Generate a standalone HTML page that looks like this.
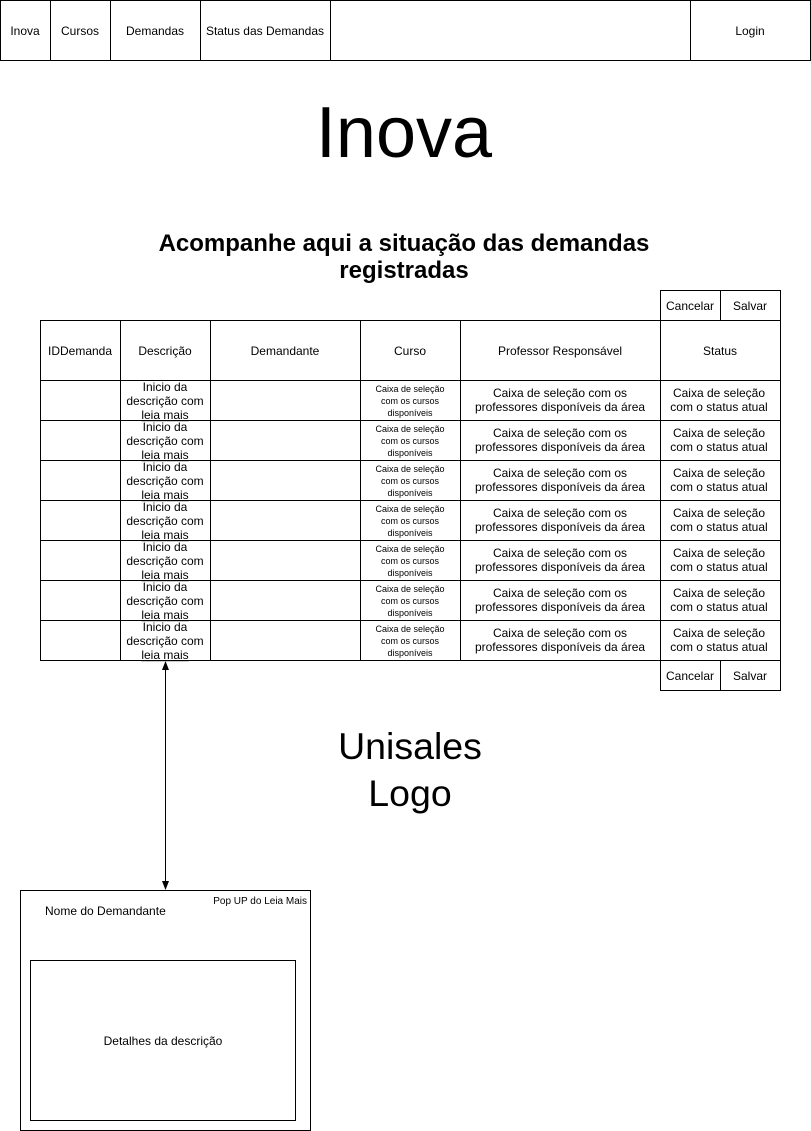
<!DOCTYPE html>
<html><head><meta charset="utf-8"><style>
html,body{margin:0;padding:0;background:#fff}
svg{display:block}
text{font-family:"Liberation Sans",Arial,sans-serif;fill:#000}
</style></head><body>
<svg width="811" height="1131" viewBox="0 0 811 1131" xmlns="http://www.w3.org/2000/svg">
<g fill="none" stroke="#000" stroke-width="1">
<rect x="0.5" y="0.5" width="810" height="60"/>
<line x1="50.5" y1="0" x2="50.5" y2="60"/>
<line x1="110.5" y1="0" x2="110.5" y2="60"/>
<line x1="200.5" y1="0" x2="200.5" y2="60"/>
<line x1="330.5" y1="0" x2="330.5" y2="60"/>
<line x1="690.5" y1="0" x2="690.5" y2="60"/>
<rect x="660.5" y="290.5" width="120" height="30"/>
<line x1="720.5" y1="290" x2="720.5" y2="320"/>
<rect x="660.5" y="660.5" width="120" height="30"/>
<line x1="720.5" y1="660" x2="720.5" y2="690"/>
<rect x="40.5" y="320.5" width="740" height="340"/>
<line x1="120.5" y1="320" x2="120.5" y2="660"/>
<line x1="210.5" y1="320" x2="210.5" y2="660"/>
<line x1="360.5" y1="320" x2="360.5" y2="660"/>
<line x1="460.5" y1="320" x2="460.5" y2="660"/>
<line x1="660.5" y1="320" x2="660.5" y2="660"/>
<line x1="40" y1="380.5" x2="780" y2="380.5"/>
<line x1="40" y1="420.5" x2="780" y2="420.5"/>
<line x1="40" y1="460.5" x2="780" y2="460.5"/>
<line x1="40" y1="500.5" x2="780" y2="500.5"/>
<line x1="40" y1="540.5" x2="780" y2="540.5"/>
<line x1="40" y1="580.5" x2="780" y2="580.5"/>
<line x1="40" y1="620.5" x2="780" y2="620.5"/>
<line x1="165.5" y1="668" x2="165.5" y2="882"/>
<rect x="20.5" y="890.5" width="290" height="240"/>
<rect x="30.5" y="960.5" width="265" height="160"/>
</g>
<polygon points="165.5,661 162,670 169,670" fill="#000"/>
<polygon points="165.5,890 162,881 169,881" fill="#000"/>
<g font-size="12" text-anchor="middle">
<text x="25" y="35">Inova</text>
<text x="80" y="35">Cursos</text>
<text x="155" y="35">Demandas</text>
<text x="265" y="35">Status das Demandas</text>
<text x="750" y="35">Login</text>
<text x="690" y="310">Cancelar</text>
<text x="750" y="310">Salvar</text>
<text x="690" y="680">Cancelar</text>
<text x="750" y="680">Salvar</text>
<text x="80" y="355">IDDemanda</text>
<text x="165" y="355">Descrição</text>
<text x="285" y="355">Demandante</text>
<text x="410" y="355">Curso</text>
<text x="560" y="355">Professor Responsável</text>
<text x="720" y="355">Status</text>
</g>
<text x="404" y="157" font-size="72" text-anchor="middle">Inova</text>
<text x="404" y="251" font-size="24" font-weight="bold" text-anchor="middle">Acompanhe aqui a situação das demandas</text>
<text x="404" y="278" font-size="24" font-weight="bold" text-anchor="middle">registradas</text>
<text x="410" y="759" font-size="37.5" text-anchor="middle">Unisales</text>
<text x="410" y="806" font-size="37.5" text-anchor="middle">Logo</text>
<text x="45" y="915" font-size="12">Nome do Demandante</text>
<text x="307" y="904" font-size="10" text-anchor="end">Pop UP do Leia Mais</text>
<text x="163" y="1045" font-size="12" text-anchor="middle">Detalhes da descrição</text>

<g text-anchor="middle">
<g transform="translate(0,0)">
<text x="165" y="391" font-size="12">Inicio da</text><text x="165" y="405" font-size="12">descrição com</text><text x="165" y="419" font-size="12" text-decoration="underline">leia mais</text>
<text x="410" y="392" font-size="9">Caixa de seleção</text><text x="410" y="404" font-size="9">com os cursos</text><text x="410" y="416" font-size="9">disponíveis</text>
<text x="560" y="397" font-size="12">Caixa de seleção com os</text><text x="560" y="411" font-size="12">professores disponíveis da área</text>
<text x="719" y="397" font-size="12">Caixa de seleção</text><text x="719" y="411" font-size="12">com o status atual</text>
</g>
<g transform="translate(0,40)">
<text x="165" y="391" font-size="12">Inicio da</text><text x="165" y="405" font-size="12">descrição com</text><text x="165" y="419" font-size="12" text-decoration="underline">leia mais</text>
<text x="410" y="392" font-size="9">Caixa de seleção</text><text x="410" y="404" font-size="9">com os cursos</text><text x="410" y="416" font-size="9">disponíveis</text>
<text x="560" y="397" font-size="12">Caixa de seleção com os</text><text x="560" y="411" font-size="12">professores disponíveis da área</text>
<text x="719" y="397" font-size="12">Caixa de seleção</text><text x="719" y="411" font-size="12">com o status atual</text>
</g>
<g transform="translate(0,80)">
<text x="165" y="391" font-size="12">Inicio da</text><text x="165" y="405" font-size="12">descrição com</text><text x="165" y="419" font-size="12" text-decoration="underline">leia mais</text>
<text x="410" y="392" font-size="9">Caixa de seleção</text><text x="410" y="404" font-size="9">com os cursos</text><text x="410" y="416" font-size="9">disponíveis</text>
<text x="560" y="397" font-size="12">Caixa de seleção com os</text><text x="560" y="411" font-size="12">professores disponíveis da área</text>
<text x="719" y="397" font-size="12">Caixa de seleção</text><text x="719" y="411" font-size="12">com o status atual</text>
</g>
<g transform="translate(0,120)">
<text x="165" y="391" font-size="12">Inicio da</text><text x="165" y="405" font-size="12">descrição com</text><text x="165" y="419" font-size="12" text-decoration="underline">leia mais</text>
<text x="410" y="392" font-size="9">Caixa de seleção</text><text x="410" y="404" font-size="9">com os cursos</text><text x="410" y="416" font-size="9">disponíveis</text>
<text x="560" y="397" font-size="12">Caixa de seleção com os</text><text x="560" y="411" font-size="12">professores disponíveis da área</text>
<text x="719" y="397" font-size="12">Caixa de seleção</text><text x="719" y="411" font-size="12">com o status atual</text>
</g>
<g transform="translate(0,160)">
<text x="165" y="391" font-size="12">Inicio da</text><text x="165" y="405" font-size="12">descrição com</text><text x="165" y="419" font-size="12" text-decoration="underline">leia mais</text>
<text x="410" y="392" font-size="9">Caixa de seleção</text><text x="410" y="404" font-size="9">com os cursos</text><text x="410" y="416" font-size="9">disponíveis</text>
<text x="560" y="397" font-size="12">Caixa de seleção com os</text><text x="560" y="411" font-size="12">professores disponíveis da área</text>
<text x="719" y="397" font-size="12">Caixa de seleção</text><text x="719" y="411" font-size="12">com o status atual</text>
</g>
<g transform="translate(0,200)">
<text x="165" y="391" font-size="12">Inicio da</text><text x="165" y="405" font-size="12">descrição com</text><text x="165" y="419" font-size="12" text-decoration="underline">leia mais</text>
<text x="410" y="392" font-size="9">Caixa de seleção</text><text x="410" y="404" font-size="9">com os cursos</text><text x="410" y="416" font-size="9">disponíveis</text>
<text x="560" y="397" font-size="12">Caixa de seleção com os</text><text x="560" y="411" font-size="12">professores disponíveis da área</text>
<text x="719" y="397" font-size="12">Caixa de seleção</text><text x="719" y="411" font-size="12">com o status atual</text>
</g>
<g transform="translate(0,240)">
<text x="165" y="391" font-size="12">Inicio da</text><text x="165" y="405" font-size="12">descrição com</text><text x="165" y="419" font-size="12" text-decoration="underline">leia mais</text>
<text x="410" y="392" font-size="9">Caixa de seleção</text><text x="410" y="404" font-size="9">com os cursos</text><text x="410" y="416" font-size="9">disponíveis</text>
<text x="560" y="397" font-size="12">Caixa de seleção com os</text><text x="560" y="411" font-size="12">professores disponíveis da área</text>
<text x="719" y="397" font-size="12">Caixa de seleção</text><text x="719" y="411" font-size="12">com o status atual</text>
</g>
</g>
</svg>
</body></html>
